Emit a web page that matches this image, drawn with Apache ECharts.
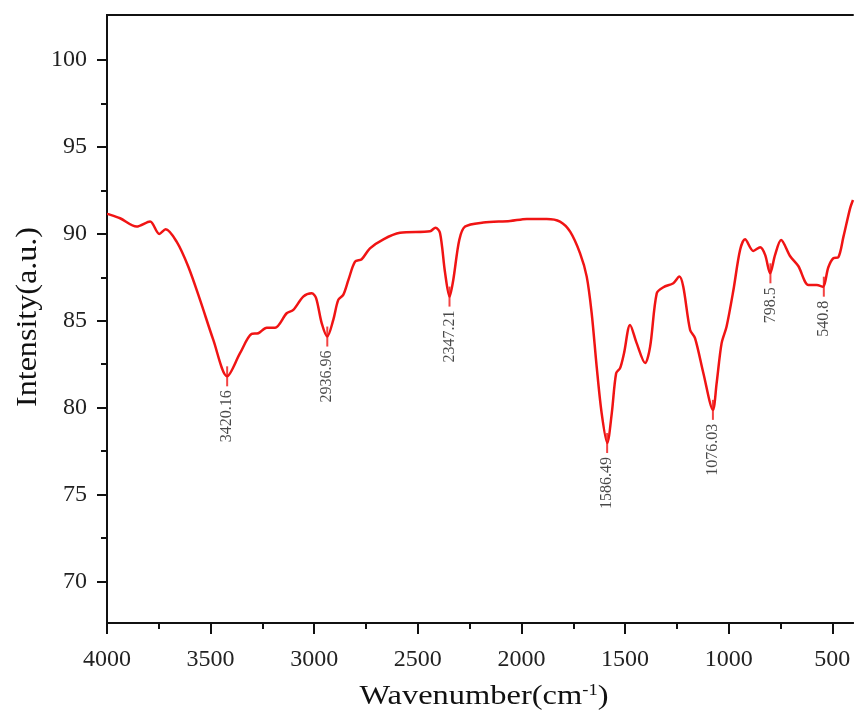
<!DOCTYPE html>
<html>
<head>
<meta charset="utf-8">
<script src="https://cdn.jsdelivr.net/npm/echarts@6/dist/echarts.min.js"></script>
<style>
html,body{margin:0;padding:0;background:#fff;}
#chart{width:859px;height:722px;}
</style>
</head>
<body>
<div id="chart"></div>
<script>
// Spectrum data (wavenumber in cm-1, intensity in a.u.)
const wavenumbers = [4000,3994,3937,3857,3792,3748,3717,3664,3608,3551,3487,3420,3358,3302,3270,3229,3189,3133,3101,3053,3012,2991,2964,2937,2908,2884,2860,2835,2803,2771,2731,2666,2586,2441,2415,2393,2369,2347,2329,2300,2272,2184,2055,1974,1878,1814,1765,1717,1685,1661,1637,1613,1586,1564,1543,1524,1505,1476,1444,1403,1379,1347,1315,1267,1238,1219,1186,1162,1122,1076,1058,1034,1010,977,945,921,881,848,824,800,776,747,704,664,615,575,546,519,495,471,446,414,400];
const intensity = [91.15,91.14,90.9,90.42,90.71,90.0,90.26,89.55,88.12,86.2,83.9,81.8,83.13,84.24,84.28,84.6,84.6,85.43,85.62,86.39,86.58,86.3,84.86,84.09,85.05,86.2,86.49,87.35,88.4,88.54,89.17,89.69,90.06,90.15,90.36,90.05,87.8,86.39,87.35,89.65,90.42,90.65,90.74,90.86,90.86,90.71,90.13,88.88,87.54,85.43,82.36,79.68,77.96,79.68,81.98,82.27,83.13,84.76,83.71,82.56,83.51,86.58,86.93,87.16,87.54,86.96,84.47,83.99,81.98,79.87,81.41,83.71,84.67,86.77,89.07,89.69,89.02,89.23,88.79,87.73,88.79,89.65,88.73,88.15,87.06,87.06,86.96,88.08,88.6,88.65,89.84,91.47,91.95];

// Annotated peaks
const peakPositions = [3420.16, 2936.96, 2347.21, 1586.49, 1076.03, 798.5, 540.8];
const peakValues = [81.8, 84.09, 86.39, 77.96, 79.87, 87.73, 86.96];
const peakLabels = ['3420.16', '2936.96', '2347.21', '1586.49', '1076.03', '798.5', '540.8'];

// Axis ticks
const xMajorTicks = [500, 1000, 1500, 2000, 2500, 3000, 3500, 4000];
const xMinorTicks = [750, 1250, 1750, 2250, 2750, 3250, 3750];
const yMajorTicks = [70, 75, 80, 85, 90, 95, 100];
const yMinorTicks = [72.5, 77.5, 82.5, 87.5, 92.5, 97.5];

const FONT = '"Liberation Serif", "Times New Roman", serif';
const chart = echarts.init(document.getElementById('chart'), null, {renderer: 'canvas'});

const lineData = wavenumbers.map((w, i) => [w, intensity[i]]);
const peakData = peakPositions.map((w, i) => ({value: [w, peakValues[i]], name: peakLabels[i]}));

const axisLine = {show: true, onZero: false, lineStyle: {color: '#111', width: 2}};
const xRange = {min: 400, max: 4000, inverse: true};
const yRange = {min: 67.6, max: 102.6};

chart.setOption({
  animation: false,
  backgroundColor: '#fff',
  grid: {left: 107, right: 6, top: 15, bottom: 99, containLabel: false},
  xAxis: [
    Object.assign({type: 'value', position: 'bottom', axisLine: axisLine,
      axisTick: {show: true, inside: false, length: 11, lineStyle: {color: '#111', width: 2}, customValues: xMajorTicks},
      axisLabel: {show: true, margin: 25, fontSize: 24, fontFamily: FONT, color: '#222', customValues: xMajorTicks,
        formatter: v => String(v)},
      splitLine: {show: false}}, xRange),
    Object.assign({type: 'value', position: 'bottom', axisLine: axisLine,
      axisTick: {show: true, inside: false, length: 6, lineStyle: {color: '#111', width: 2}, customValues: xMinorTicks},
      axisLabel: {show: false}, splitLine: {show: false}}, xRange),
    Object.assign({type: 'value', position: 'top', axisLine: axisLine,
      axisTick: {show: false}, axisLabel: {show: false}, splitLine: {show: false}}, xRange)
  ],
  yAxis: [
    Object.assign({type: 'value', position: 'left', axisLine: axisLine,
      axisTick: {show: true, inside: false, length: 10, lineStyle: {color: '#111', width: 2}, customValues: yMajorTicks},
      axisLabel: {show: true, margin: 20, fontSize: 24, fontFamily: FONT, color: '#222', customValues: yMajorTicks,
        formatter: v => String(v)},
      splitLine: {show: false}}, yRange),
    Object.assign({type: 'value', position: 'left', axisLine: axisLine,
      axisTick: {show: true, inside: false, length: 6, lineStyle: {color: '#111', width: 2}, customValues: yMinorTicks},
      axisLabel: {show: false}, splitLine: {show: false}}, yRange)
  ],
  series: [
    {
      type: 'line', data: lineData, xAxisIndex: 0, yAxisIndex: 0,
      showSymbol: false, smooth: 0.3,
      lineStyle: {color: '#f01414', width: 2.5}, z: 3
    },
    {
      type: 'scatter', data: peakData, xAxisIndex: 0, yAxisIndex: 0,
      symbol: 'rect', symbolSize: [2, 20], itemStyle: {color: '#f01414'}, z: 4,
      label: {
        show: true, position: 'bottom', distance: 4, rotate: 90,
        align: 'right', verticalAlign: 'middle',
        formatter: p => p.name,
        fontSize: 16, fontFamily: FONT, color: '#1a1a1a'
      }
    }
  ],
  graphic: [
    {type: 'text', x: 28, y: 317, rotation: Math.PI / 2, scaleX: 1.07,
      style: {text: 'Intensity(a.u.)', font: '30px ' + FONT, fill: '#111', align: 'center', verticalAlign: 'middle'}},
    {type: 'text', x: 484, y: 697, scaleX: 1.16,
      style: {text: 'Wavenumber(cm{sup|-1})', font: '28px ' + FONT, fill: '#111', align: 'center', verticalAlign: 'middle',
        rich: {sup: {fontSize: 16, fontFamily: FONT, fill: '#111', verticalAlign: 'top', padding: [0, 0, 13, 0]}}}}
  ]
});
</script>
</body>
</html>
